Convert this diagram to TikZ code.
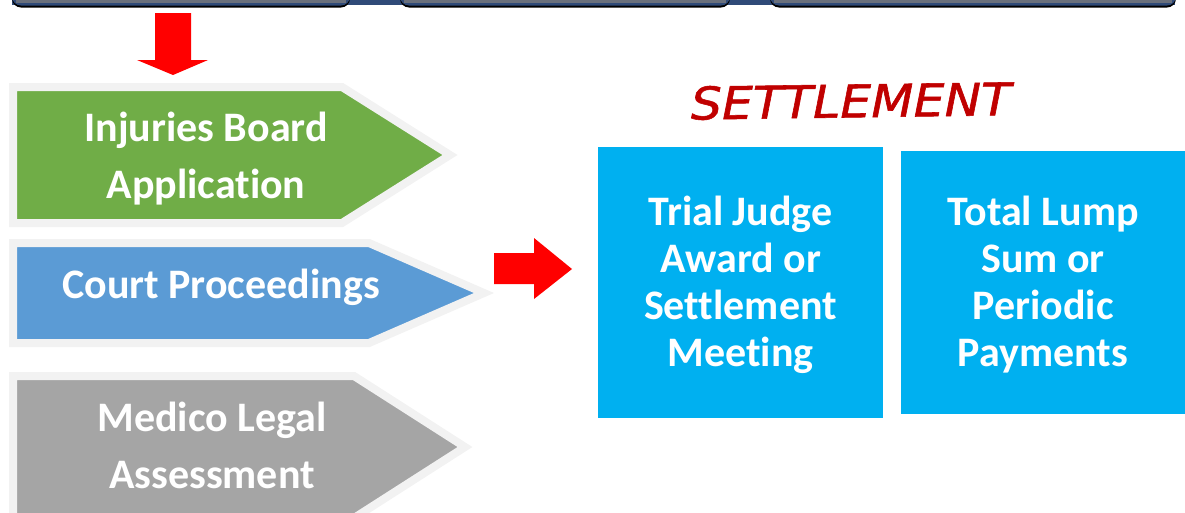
\documentclass[tikz,border=0pt]{standalone}
\usepackage{fontspec}
\setmainfont{Carlito}[Ligatures={NoCommon,NoContextual}]
\newfontfamily\handfont{DejaVu Sans}[FakeBold=1.2]
\usepackage{tikz}
\definecolor{IBgreen}{HTML}{70AD47}
\definecolor{CPblue}{HTML}{5B9BD5}
\definecolor{MLgray}{HTML}{A5A5A5}
\definecolor{rim}{HTML}{F2F2F2}
\definecolor{SETsky}{HTML}{00B0F0}
\definecolor{SETred}{HTML}{C00000}
\definecolor{topnavy}{HTML}{2F4A78}
\definecolor{topgray}{HTML}{6A707C}
\tikzset{sparsam/.style={inner sep=0pt}}
\tikzset{redarrow/.style={fill=red}}
\tikzset{stage/.style={draw=rim, line width=8pt, miter limit=20}}
\tikzset{stagetxt/.style={sparsam, text=white, align=center, font=\fontsize{42}{57}\selectfont\bfseries}}
\tikzset{skybox/.style={sparsam, fill=SETsky}}
\tikzset{boxtxt/.style={sparsam, text=white, align=center, yshift=-2pt, font=\fontsize{42}{47}\selectfont\bfseries}}

\begin{document}
\begin{tikzpicture}[x=1pt,y=-1pt]
  \useasboundingbox (0,0) rectangle (1185,512);
  \clip (0,0) rectangle (1185,512);

  % --- top bar ---
  \fill[topnavy] (12,0) rectangle (1175,4.5);
  \foreach \a/\b in {12/350, 400/730, 770/1176}{
    \fill[black, rounded corners=9pt] (\a,-20) rectangle (\b,7.5);
    \fill[topnavy, rounded corners=9pt] (\a,-20) rectangle (\b,5.5);
    \fill[topgray] (\a+4,-20) rectangle (\b-4,2.5);
  }

  % --- red arrows ---
  \path[redarrow] (155,13) -- (191,13) -- (191,60) -- (208,60) -- (173,75)
                  -- (137,60) -- (155,60) -- cycle;
  \path[redarrow] (494,253) -- (534,253) -- (534,238) -- (572,269)
                  -- (534,299) -- (534,284) -- (494,284) -- cycle;

  % --- stages ---
  \filldraw[stage, fill=IBgreen] (13,87) -- (342,87) -- (450,155) -- (342,223) -- (13,223) -- cycle;
  \node[stagetxt] (ib) at (206,159) {Injuries Board\\Application};

  \filldraw[stage, fill=CPblue] (13,243) -- (369,243) -- (484,293) -- (369,343) -- (13,343) -- cycle;
  \node[stagetxt] (court) at (221,287) {Court Proceedings};

  \filldraw[stage, fill=MLgray] (13,376) -- (354,376) -- (465,447) -- (354,518) -- (13,518) -- cycle;
  \node[stagetxt] (medico) at (212,445) {Medico Legal\\Assessment};

  % --- settlement ---
  \node[text=SETred, font=\handfont\itshape\fontsize{45}{50}\selectfont,
        rotate=0.8, xscale=1.09, sparsam] (settle) at (851,101) {SETTLEMENT};

  \node[skybox, minimum width=285pt, minimum height=271pt,
        label={[boxtxt]center:{Trial Judge\\Award or\\Settlement\\Meeting}}] (trial) at (740.5,282.5) {};
  \node[skybox, minimum width=284pt, minimum height=263pt,
        label={[boxtxt]center:{Total Lump\\Sum or\\Periodic\\Payments}}] (lump) at (1043,282.5) {};

\end{tikzpicture}
\end{document}
